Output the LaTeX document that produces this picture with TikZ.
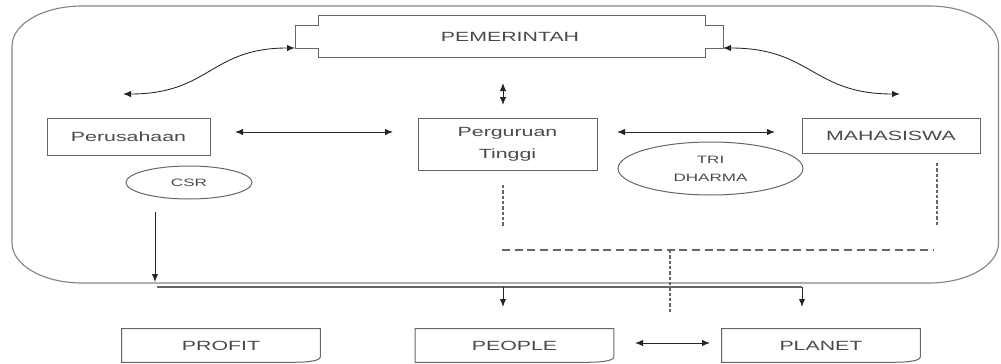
\documentclass[tikz,border=0pt]{standalone}
\usepackage{fontspec}
\setmainfont[FakeStretch=1.6]{Liberation Sans}
\usetikzlibrary{arrows.meta,shapes.geometric}
\definecolor{linegray}{HTML}{666666}
\definecolor{framegray}{HTML}{858585}
\definecolor{textgray}{HTML}{4A4A4A}
\definecolor{arrowgray}{HTML}{262626}
\begin{document}
\begin{tikzpicture}[x=0.75pt,y=-0.75pt,
  boxline/.style={draw=linegray,line width=0.75pt},
  box/.style={boxline,rectangle,text=textgray,inner sep=0pt,align=center,font=\fontsize{10}{16.5}\selectfont},
  ell/.style={boxline,ellipse,text=textgray,inner sep=0pt,align=center,font=\fontsize{8}{13.5}\selectfont},
  doctext/.style={rectangle,text=textgray,inner sep=0pt,align=center,font=\fontsize{10}{12}\selectfont,minimum width=148.5pt,minimum height=24.75pt},
  docline/.style={boxline},
  biarrow/.style={draw=arrowgray,line width=0.65pt,{Latex[length=6pt,width=4.8pt]}-{Latex[length=6pt,width=4.8pt]}},
  onearrow/.style={draw=arrowgray,line width=0.75pt,-{Latex[length=6pt,width=4.8pt]}},
  dashline/.style={draw=linegray,line width=0.9pt,dash pattern=on 6pt off 3.5pt},
  dotline/.style={draw=linegray,line width=0.9pt,dash pattern=on 2.5pt off 1.5pt}
]
\useasboundingbox (0,0) rectangle (1001,364);

% outer frame
\draw[draw=framegray,line width=0.85pt] (12,46) .. controls (12,24) and (43,6) .. (82,6) -- (929,6) .. controls (968,6) and (998.5,24) .. (998.5,46) -- (998.5,243) .. controls (998.5,265) and (968,283) .. (929,283) -- (82,283) .. controls (43,283) and (12,265) .. (12,243) -- cycle;

% PEMERINTAH
\draw[boxline] (318,15) -- (705,15) -- (705,25) -- (723,25) -- (723,48) -- (705,48) -- (705,57) -- (318,57) -- (318,48) -- (295,48) -- (295,25) -- (318,25) -- cycle;
\node[text=textgray,font=\fontsize{10}{12}\selectfont] (pem) at (510,37) {PEMERINTAH};
\coordinate (pemL) at (295,48);
\coordinate (pemR) at (723,48);
\coordinate (leftEnd) at (123,94);
\coordinate (rightEnd) at (900,94);
\coordinate (pemTop) at (503,83);
\coordinate (pemBot) at (503,105);

% boxes
\node[box,minimum width=122.25pt,minimum height=27.75pt] (per) at (128.5,136.5) {Perusahaan};
\node[box,minimum width=134.25pt,minimum height=39pt] (pt) at (507.5,144) {Perguruan\\Tinggi};
\node[box,minimum width=133.5pt,minimum height=26.25pt] (mhs) at (891,135.5) {MAHASISWA};

% ellipses
\node[ell,minimum width=94.5pt,minimum height=24.75pt] (csr) at (189,182.5) {CSR};
\node[ell,minimum width=138.75pt,minimum height=39.75pt] (tri) at (710.5,168.5) {TRI\\DHARMA};

% bottom document boxes
\node[doctext] (profit) at (221,345.5) {PROFIT};
\node[doctext] (people) at (514.5,345.5) {PEOPLE};
\node[doctext] (planet) at (821,345.5) {PLANET};
\foreach \n in {profit,people,planet}{
  \draw[docline] (\n.south west) -- (\n.north west) -- (\n.north east) -- ([yshift=4pt]\n.south east) .. controls ([yshift=1pt]\n.south east) and ([xshift=-10pt,yshift=0pt]\n.south east) .. ([xshift=-19pt]\n.south east) -- cycle;
}

% curved arrows from PEMERINTAH
\draw[biarrow] (leftEnd) .. controls (210,94) and (210,48) .. (pemL);
\draw[biarrow] (pemR) .. controls (812,48) and (812,94) .. (rightEnd);
\draw[biarrow] (pemTop) -- (pemBot);

% horizontal arrows
\coordinate (a1) at (235,132);
\coordinate (a2) at (393,132);
\coordinate (b1) at (617,132);
\coordinate (b2) at (775,132);
\coordinate (c1) at (635,343);
\coordinate (c2) at (710,343);
\draw[biarrow] (a1) -- (a2);
\draw[biarrow] (b1) -- (b2);
\draw[biarrow] (c1) -- (c2);

% CSR down arrow and distribution line
\coordinate (csrTop) at (155,212);
\coordinate (csrBot) at (155,282);
\draw[onearrow] (csrTop) -- (csrBot);
\coordinate (dL) at (157,287);
\coordinate (dP) at (503,287);
\coordinate (dQ) at (802,287);
\draw[draw=linegray,line width=0.85pt] (dL) -- (dQ);
\draw[onearrow] (dP) -- (503,307) coordinate (peopleTip);
\draw[onearrow] (dQ) -- (802,307) coordinate (planetTip);

% dashed / dotted lines
\coordinate (h1) at (502,250);
\coordinate (h2) at (933,250);
\draw[dashline] (h1) -- (h2);
\draw[dotline] (670,250) coordinate (v1) -- (670,313) coordinate (v2);
\draw[dotline] (503,185) coordinate (pd1) -- (503,227) coordinate (pd2);
\draw[dotline] (937,163) coordinate (md1) -- (937,227) coordinate (md2);
\end{tikzpicture}
\end{document}
